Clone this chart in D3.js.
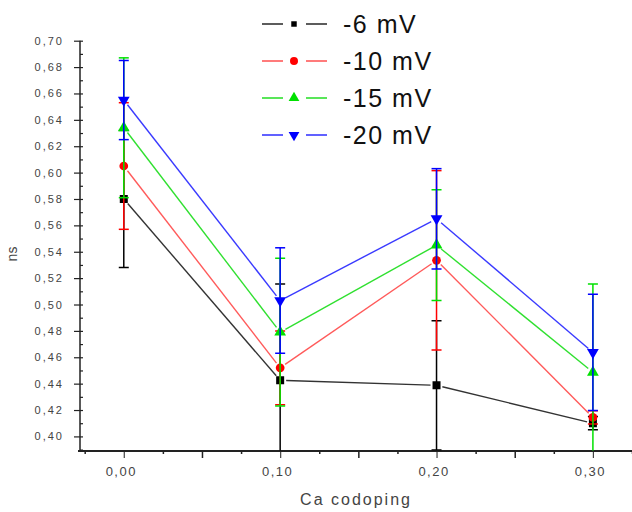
<!DOCTYPE html>
<html>
<head>
<meta charset="utf-8">
<script src="https://cdn.jsdelivr.net/npm/d3@7"></script>
<style>
  html, body { margin: 0; padding: 0; background: #fff; }
  svg { display: block; }
  text { font-family: "Liberation Sans", Arial, sans-serif; }
</style>
</head>
<body>
<svg id="chart" width="632" height="512"></svg>
<script>
// ---- data ----
const xValues = [0.00, 0.10, 0.20, 0.30];
const seriesNames = ["-6 mV", "-10 mV", "-15 mV", "-20 mV"];
const seriesColors = ["#000000", "#ff0000", "#00e000", "#0000ff"];
const lineColors = ["#333333", "#ff5a5a", "#30e030", "#3a3aff"];
const seriesShapes = ["square", "circle", "triangle", "triangleDown"];
const values6  = [0.580, 0.4425, 0.4387, 0.410];
const errors6  = [0.052, 0.073, 0.049, 0.005];
const values10 = [0.605, 0.452, 0.5335, 0.4144];
const errors10 = [0.048, 0.028, 0.068, 0.005];
const values15 = [0.634, 0.479, 0.545, 0.4486];
const errors15 = [0.053, 0.056, 0.042, 0.067];
const values20 = [0.655, 0.503, 0.565, 0.4637];
const errors20 = [0.030, 0.040, 0.038, 0.044];
const yTickValues = [0.40, 0.42, 0.44, 0.46, 0.48, 0.50, 0.52, 0.54, 0.56, 0.58, 0.60, 0.62, 0.64, 0.66, 0.68, 0.70];
const xTickValues = [0.00, 0.10, 0.20, 0.30];
const xTitle = "Ca codoping";
const yTitle = "ns";

const allValues = [values6, values10, values15, values20];
const allErrors = [errors6, errors10, errors15, errors20];

// ---- layout ----
const svg = d3.select("#chart");
const pLeft = 80, pRight = 632, pTop = 40.7, pBottom = 451;
const x = d3.scaleLinear().domain([-0.028, 0.325]).range([pLeft, pRight]);
const y = d3.scaleLinear().domain([0.39, 0.70]).range([449.6, pTop]);
const fmt = v => d3.format(".2f")(v).replace(".", ",");

svg.append("defs").append("clipPath").attr("id", "plotclip")
  .append("rect").attr("x", pLeft).attr("y", 0).attr("width", pRight - pLeft).attr("height", pBottom - 0.5);

// ---- axes ----
const yMinor = d3.range(0.39, 0.7001, 0.01);
svg.append("g").attr("transform", `translate(${pLeft},0)`)
  .call(d3.axisRight(y).tickValues(yMinor).tickSize(3).tickFormat(""))
  .call(g => g.select(".domain").remove())
  .call(g => g.selectAll("line").attr("stroke", "#222").attr("stroke-width", 1.2));

const yAxis = d3.axisLeft(y).tickValues(yTickValues).tickSize(6).tickPadding(10).tickFormat(fmt);
const gy = svg.append("g").attr("transform", `translate(${pLeft},0)`).call(yAxis);
gy.select(".domain").remove();
gy.selectAll("line").attr("stroke", "#222").attr("stroke-width", 1.2);
gy.selectAll("text").attr("font-size", 11).attr("letter-spacing", "2px").attr("fill", "#444")
  .attr("font-family", "'DejaVu Sans', sans-serif");
svg.append("line").attr("x1", pLeft).attr("x2", pLeft).attr("y1", pTop).attr("y2", pBottom)
  .attr("stroke", "#222").attr("stroke-width", 1.5);

const xMinor = d3.range(-0.025, 0.326, 0.025).filter(v => Math.abs(Math.round(v * 20) - v * 20) > 0.01);
svg.append("g").attr("transform", `translate(0,${pBottom})`)
  .call(d3.axisBottom(x).tickValues(xMinor).tickSize(3).tickFormat(""))
  .call(g => g.select(".domain").remove())
  .call(g => g.selectAll("line").attr("stroke", "#222").attr("stroke-width", 1.5));
const xMid = d3.range(0.05, 0.326, 0.1);
svg.append("g").attr("transform", `translate(0,${pBottom})`)
  .call(d3.axisBottom(x).tickValues(xMid).tickSize(7).tickFormat(""))
  .call(g => g.select(".domain").remove())
  .call(g => g.selectAll("line").attr("stroke", "#222").attr("stroke-width", 1.5));
const xAxis = d3.axisBottom(x).tickValues(xTickValues).tickSize(7).tickPadding(9).tickFormat(fmt);
const gx = svg.append("g").attr("transform", `translate(0,${pBottom})`).call(xAxis);
gx.select(".domain").remove();
gx.selectAll("line").attr("stroke", "#444").attr("stroke-width", 1.2);
gx.selectAll("text").attr("font-size", 13).attr("letter-spacing", "1.5px").attr("fill", "#444")
  .attr("font-family", "'DejaVu Sans', sans-serif").attr("dx", "-3");
svg.append("line").attr("x1", pLeft - 2).attr("x2", pRight).attr("y1", pBottom).attr("y2", pBottom)
  .attr("stroke", "#222").attr("stroke-width", 2);

// titles
svg.append("text").attr("x", 356).attr("y", 505).attr("text-anchor", "middle")
  .attr("font-size", 16).attr("letter-spacing", "2px").attr("fill", "#444").text(xTitle);
svg.append("text").attr("transform", "translate(17,254) rotate(-90)").attr("text-anchor", "middle")
  .attr("font-size", 14).attr("fill", "#444").text(yTitle);

// ---- marker helper ----
function symbolPath(shape, size) {
  const t = shape === "square" ? d3.symbolSquare : shape === "circle" ? d3.symbolCircle : d3.symbolTriangle;
  return d3.symbol(t, size)();
}
function symbolTransform(shape, px, py) {
  return shape === "triangleDown" ? `translate(${px},${py}) rotate(180)` : `translate(${px},${py})`;
}

// ---- series ----
const plot = svg.append("g").attr("clip-path", "url(#plotclip)");
const gap = 6;
allValues.forEach((vals, si) => {
  const col = seriesColors[si];
  const g = plot.append("g");
  for (let i = 0; i < vals.length - 1; i++) {
    const x1 = x(xValues[i]), y1 = y(vals[i]), x2 = x(xValues[i + 1]), y2 = y(vals[i + 1]);
    const len = Math.hypot(x2 - x1, y2 - y1), ux = (x2 - x1) / len, uy = (y2 - y1) / len;
    g.append("line")
      .attr("x1", x1 + ux * gap).attr("y1", y1 + uy * gap)
      .attr("x2", x2 - ux * gap).attr("y2", y2 - uy * gap)
      .attr("stroke", lineColors[si]).attr("stroke-width", 1.4);
  }
  vals.forEach((v, i) => {
    const e = allErrors[si][i];
    const px = x(xValues[i]);
    g.append("line").attr("x1", px).attr("x2", px).attr("y1", y(v + e)).attr("y2", y(v - e))
      .attr("stroke", col).attr("stroke-width", 1.5);
    [v + e, v - e].forEach(c => {
      g.append("line").attr("x1", px - 5).attr("x2", px + 5).attr("y1", y(c)).attr("y2", y(c))
        .attr("stroke", col).attr("stroke-width", 1.5);
    });
  });
  const sz = seriesShapes[si] === "square" ? 64 : 60;
  g.selectAll("path.mk").data(vals).join("path").attr("class", "mk")
    .attr("d", symbolPath(seriesShapes[si], sz))
    .attr("transform", (d, i) => symbolTransform(seriesShapes[si], x(xValues[i]), y(d)))
    .attr("fill", col);
});

// ---- legend ----
const legend = svg.append("g");
const rowY = [24, 61, 98, 135];
seriesNames.forEach((name, si) => {
  const ly = rowY[si];
  legend.append("line").attr("x1", 262).attr("x2", 283).attr("y1", ly).attr("y2", ly)
    .attr("stroke", lineColors[si]).attr("stroke-width", 1.6);
  legend.append("line").attr("x1", 306).attr("x2", 327).attr("y1", ly).attr("y2", ly)
    .attr("stroke", lineColors[si]).attr("stroke-width", 1.6);
  const shape = seriesShapes[si];
  legend.append("path").attr("d", symbolPath(shape, shape === "square" ? 30 : 50))
    .attr("transform", symbolTransform(shape, 294, ly))
    .attr("fill", seriesColors[si]);
  legend.append("text").attr("x", 343).attr("y", ly + 9).attr("font-size", 25)
    .attr("letter-spacing", "1.5px").attr("fill", "#111").text(name);
});
</script>
</body>
</html>
